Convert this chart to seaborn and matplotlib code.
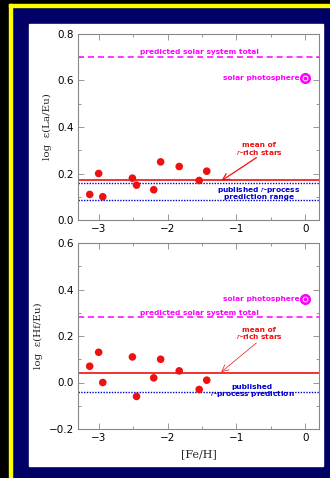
import numpy as np
import pandas as pd
import matplotlib
matplotlib.use("Agg")
import matplotlib.pyplot as plt
from matplotlib.patches import Rectangle
from matplotlib.ticker import MultipleLocator
import seaborn as sns

# Star data
fe_h = [-3.13, -3.00, -2.94, -2.51, -2.45, -2.20, -2.10, -1.83, -1.54, -1.43]
la_eu = [0.11, 0.20, 0.10, 0.18, 0.15, 0.13, 0.25, 0.23, 0.17, 0.21]
hf_eu = [0.07, 0.13, 0.00, 0.11, -0.06, 0.02, 0.10, 0.05, -0.03, 0.01]

# reference levels: [La/Eu, Hf/Eu]
mean_rich = [0.17, 0.04]
solar_total = [0.70, 0.28]
solar_photo = [0.61, 0.36]
rproc_la = [0.16, 0.085]
rproc_hf = [-0.04]

sns.set_theme(style="ticks")
plt.rcParams['font.family'] = ['DejaVu Sans']

NAVY = "#000066"
RED = "#ee1111"
MAG = "#ff00ff"
BLUE = "#0000cc"
GREY = "#888888"

fig = plt.figure(figsize=(3.3, 4.78), dpi=100, facecolor=NAVY)

# frame decorations (behind the axes)
def frame(x, y, w, h, c, z):
    fig.patches.append(Rectangle((x / 330, 1 - (y + h) / 478), w / 330, h / 478,
                                 transform=fig.transFigure, color=c, zorder=z))

frame(0, 0, 9, 478, "black", -5)
frame(0, 0, 330, 4, "black", -5)
frame(9, 4, 2.5, 474, "#ffff00", -4)
frame(9, 4, 321, 2.5, "#ffff00", -4)
frame(29, 24, 294, 442, "white", -3)

ax1 = fig.add_axes([78 / 330, 1 - 220 / 478, 241 / 330, 186 / 478])
ax2 = fig.add_axes([78 / 330, 1 - 429 / 478, 241 / 330, 186 / 478])

df = pd.DataFrame({"fe": fe_h, "la": la_eu, "hf": hf_eu})
sns.scatterplot(data=df, x="fe", y="la", ax=ax1, color=RED, s=30, edgecolor="none", zorder=5)
sns.scatterplot(data=df, x="fe", y="hf", ax=ax2, color=RED, s=30, edgecolor="none", zorder=5)

note = dict(fontsize=5.3, fontweight="bold", linespacing=0.9)
for i, ax in enumerate([ax1, ax2]):
    ax.set_facecolor("white")
    ax.axhline(mean_rich[i], color=RED, lw=1.2)
    ax.axhline(solar_total[i], color=MAG, lw=1.1, ls=(0, (4, 2.5)))
    ax.plot([0], [solar_photo[i]], "o", ms=7, color=MAG, mec=MAG)
    ax.plot([0], [solar_photo[i]], "o", ms=3.5, color=MAG, mec="white", mew=0.7)
    ax.text(-0.08, solar_photo[i], "solar photosphere", color=MAG, ha="right", va="center", **note)
    ax.text(-1.54, solar_total[i] + 0.008, "predicted solar system total", color=MAG,
            ha="center", va="bottom", **note)
    ax.set_xlim(-3.3, 0.2)
    ax.xaxis.set_major_locator(MultipleLocator(1))
    ax.xaxis.set_minor_locator(MultipleLocator(0.5))
    ax.yaxis.set_major_locator(MultipleLocator(0.2))
    ax.yaxis.set_minor_locator(MultipleLocator(0.1))
    ax.tick_params(which="both", direction="in", top=True, right=True, colors=GREY,
                   labelcolor="black", labelsize=7.5, width=0.6, pad=3)
    ax.tick_params(which="major", length=4)
    ax.tick_params(which="minor", length=2)
    for sp in ax.spines.values():
        sp.set_color(GREY)
        sp.set_linewidth(0.8)
    ax.set_xticks([-3, -2, -1, 0])
    ax.set_xticklabels(["\u22123", "\u22122", "\u22121", "0"])

ax1.set_ylim(0, 0.8)
for y in rproc_la:
    ax1.axhline(y, color=BLUE, lw=1.0, ls=(0, (1, 1)))
ax1.text(-0.67, 0.272, "mean of\n$r$-rich stars", color=RED, ha="center", va="bottom", **note)
ax1.annotate("", xy=(-1.22, 0.168), xytext=(-0.71, 0.268),
             arrowprops=dict(arrowstyle="->", color=RED, lw=0.9, shrinkA=0, shrinkB=0))
ax1.text(-0.67, 0.118, "published $r$-process\nprediction range", color=BLUE,
         ha="center", va="center", **note)
ax1.set_ylabel("log  \u03b5(La/Eu)", family="DejaVu Serif", fontsize=7.5, labelpad=4)
ax1.set_xlabel("")

ax2.set_ylim(-0.2, 0.6)
for y in rproc_hf:
    ax2.axhline(y, color=BLUE, lw=1.0, ls=(0, (1, 1)))
ax2.text(-0.67, 0.178, "mean of\n$r$-rich stars", color=RED, ha="center", va="bottom", **note)
ax2.annotate("", xy=(-1.22, 0.045), xytext=(-0.71, 0.17),
             arrowprops=dict(arrowstyle="->", color=RED, lw=0.5, shrinkA=0, shrinkB=0))
ax2.text(-0.77, -0.04, "published\n$r$-process prediction", color=BLUE,
         ha="center", va="center", **note)
ax2.set_ylabel("log  \u03b5(Hf/Eu)", family="DejaVu Serif", fontsize=7.5, labelpad=4)
ax2.set_xlabel("[Fe/H]", family="DejaVu Serif", fontsize=8, labelpad=4)

fig.savefig("out.png", dpi=100, facecolor=NAVY)
